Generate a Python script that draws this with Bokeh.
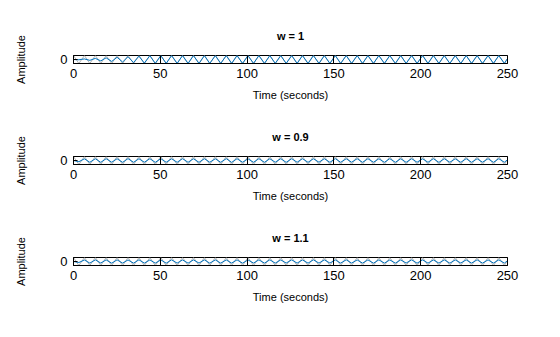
from bokeh.plotting import figure
from bokeh.layouts import column
from bokeh.models import Range1d, FixedTicker, Title
from bokeh.embed import file_html
from bokeh.resources import INLINE

# Time (seconds) at the turning points of the curves
t = [0.0, 3.1, 6.3, 9.4, 12.6, 15.7, 18.8, 22.0, 25.1, 28.3,
     31.4, 34.6, 37.7, 40.8, 44.0, 47.1, 50.3, 53.4, 56.5, 59.7,
     62.8, 66.0, 69.1, 72.3, 75.4, 78.5, 81.7, 84.8, 88.0, 91.1,
     94.2, 97.4, 100.5, 103.7, 106.8, 110.0, 113.1, 116.2, 119.4, 122.5,
     125.7, 128.8, 131.9, 135.1, 138.2, 141.4, 144.5, 147.7, 150.8, 153.9,
     157.1, 160.2, 163.4, 166.5, 169.6, 172.8, 175.9, 179.1, 182.2, 185.4,
     188.5, 191.6, 194.8, 197.9, 201.1, 204.2, 207.3, 210.5, 213.6, 216.8,
     219.9, 223.1, 226.2, 229.3, 232.5, 235.6, 238.8, 241.9, 245.0, 248.2,
     250.0]

# Driving force (gray)
force = [1, -1, 1, -1, 1, -1, 1, -1, 1, -1,
         1, -1, 1, -1, 1, -1, 1, -1, 1, -1,
         1, -1, 1, -1, 1, -1, 1, -1, 1, -1,
         1, -1, 1, -1, 1, -1, 1, -1, 1, -1,
         1, -1, 1, -1, 1, -1, 1, -1, 1, -1,
         1, -1, 1, -1, 1, -1, 1, -1, 1, -1,
         1, -1, 1, -1, 1, -1, 1, -1, 1, -1,
         1, -1, 1, -1, 1, -1, 1, -1, 1, -1,
         0.25]

# Response (blue), w = 1
resp1 = [0.0, -0.07, 0.14, -0.21, 0.28, -0.35, 0.42, -0.49, 0.56, -0.63,
         0.70, -0.77, 0.84, -0.91, 0.97, -0.98, 0.98, -0.98, 0.98, -0.98,
         0.98, -0.98, 0.98, -0.98, 0.98, -0.98, 0.98, -0.98, 0.98, -0.98,
         0.98, -0.98, 0.98, -0.98, 0.98, -0.98, 0.98, -0.98, 0.98, -0.98,
         0.98, -0.98, 0.98, -0.98, 0.98, -0.98, 0.98, -0.98, 0.98, -0.98,
         0.98, -0.98, 0.98, -0.98, 0.98, -0.98, 0.98, -0.98, 0.98, -0.98,
         0.98, -0.98, 0.98, -0.98, 0.98, -0.98, 0.98, -0.98, 0.98, -0.98,
         0.98, -0.98, 0.98, -0.98, 0.98, -0.98, 0.98, -0.98, 0.98, -0.98,
         0.25]

# Response (blue), w = 0.9
resp2 = [0.0, -0.30, 0.42, -0.45, 0.44, -0.46, 0.45, -0.43, 0.44, -0.46,
         0.47, -0.45, 0.44, -0.43, 0.45, -0.46, 0.45, -0.44, 0.43, -0.45,
         0.46, -0.45, 0.44, -0.46, 0.45, -0.44, 0.43, -0.45, 0.46, -0.47,
         0.45, -0.44, 0.43, -0.45, 0.46, -0.45, 0.44, -0.43, 0.45, -0.46,
         0.45, -0.44, 0.45, -0.46, 0.44, -0.43, 0.45, -0.46, 0.47, -0.45,
         0.44, -0.43, 0.45, -0.46, 0.45, -0.44, 0.43, -0.45, 0.46, -0.45,
         0.44, -0.46, 0.45, -0.44, 0.43, -0.45, 0.46, -0.47, 0.45, -0.44,
         0.43, -0.45, 0.46, -0.45, 0.44, -0.43, 0.45, -0.46, 0.45, -0.44,
         0.20]

# Response (blue), w = 1.1
resp3 = [0.0, -0.25, 0.38, -0.40, 0.41, -0.39, 0.40, -0.42, 0.41, -0.40,
         0.39, -0.41, 0.42, -0.40, 0.39, -0.41, 0.40, -0.42, 0.41, -0.40,
         0.39, -0.41, 0.40, -0.39, 0.41, -0.42, 0.40, -0.41, 0.39, -0.40,
         0.41, -0.42, 0.40, -0.39, 0.41, -0.40, 0.42, -0.41, 0.40, -0.39,
         0.41, -0.40, 0.39, -0.41, 0.42, -0.40, 0.41, -0.39, 0.40, -0.41,
         0.42, -0.40, 0.39, -0.41, 0.40, -0.42, 0.41, -0.40, 0.39, -0.41,
         0.40, -0.39, 0.41, -0.42, 0.40, -0.41, 0.39, -0.40, 0.41, -0.42,
         0.40, -0.39, 0.41, -0.40, 0.42, -0.41, 0.40, -0.39, 0.41, -0.40,
         0.20]

titles = ["w = 1", "w = 0.9", "w = 1.1"]
responses = [resp1, resp2, resp3]
x_ticks = [0, 50, 100, 150, 200, 250]

FONT = "Liberation Sans"
BLUE = "#0072BD"
GRAY = "#B3B3B3"

panels = []
for i, (title, resp) in enumerate(zip(titles, responses)):
    p = figure(output_backend="svg", toolbar_location=None,
               frame_width=434, frame_height=8,
               min_border_left=73, min_border_right=53,
               min_border_top=55 if i == 0 else 53, min_border_bottom=38,
               x_range=Range1d(0, 250), y_range=Range1d(-1, 1))
    p.background_fill_color = "white"
    p.border_fill_color = "white"
    p.outline_line_color = "black"
    p.outline_line_width = 1
    p.xgrid.visible = False
    p.ygrid.visible = False

    # spacer (nearest the frame), then the visible title above it
    p.add_layout(Title(text=" ", text_font_size="7px", standoff=0,
                       text_font=FONT), "above")
    p.add_layout(Title(text=title, align="center", text_font=FONT,
                       text_font_size="11px", text_font_style="bold",
                       text_color="black"), "above")

    p.line(t, force, line_color=GRAY, line_width=1)
    p.line(t, resp, line_color=BLUE, line_width=1)

    xa = p.xaxis[0]
    xa.ticker = FixedTicker(ticks=x_ticks, minor_ticks=[])
    xa.major_tick_in = 8
    xa.major_tick_out = 0
    xa.minor_tick_in = 0
    xa.minor_tick_out = 0
    xa.axis_line_color = "black"
    xa.major_tick_line_color = "black"
    xa.major_label_text_font = FONT
    xa.major_label_text_font_size = "13px"
    xa.major_label_text_color = "black"
    xa.major_label_standoff = 5
    xa.axis_label = "Time (seconds)"
    xa.axis_label_text_font = FONT
    xa.axis_label_text_font_size = "11px"
    xa.axis_label_text_font_style = "normal"
    xa.axis_label_text_color = "black"
    xa.axis_label_standoff = 8

    ya = p.yaxis[0]
    ya.ticker = FixedTicker(ticks=[0], minor_ticks=[])
    ya.major_tick_in = 4
    ya.major_tick_out = 0
    ya.minor_tick_in = 0
    ya.minor_tick_out = 0
    ya.axis_line_color = "black"
    ya.major_tick_line_color = "black"
    ya.major_label_text_font = FONT
    ya.major_label_text_font_size = "13px"
    ya.major_label_text_color = "black"
    ya.major_label_standoff = 6
    ya.axis_label = "Amplitude"
    ya.axis_label_text_font = FONT
    ya.axis_label_text_font_size = "11px"
    ya.axis_label_text_font_style = "normal"
    ya.axis_label_text_color = "black"
    ya.axis_label_standoff = 30

    panels.append(p)

layout = column(*panels, spacing=0)
open("out.html", "w").write(file_html(layout, INLINE))
